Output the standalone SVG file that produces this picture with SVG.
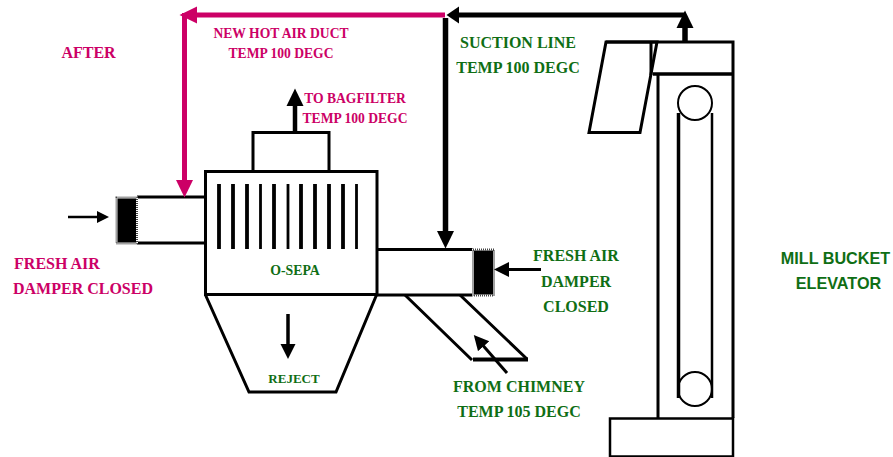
<svg xmlns="http://www.w3.org/2000/svg" width="893" height="457" viewBox="0 0 893 457">
<style>
.s{fill:none;stroke:#000;stroke-width:3}
.f{fill:#fff;stroke:#000;stroke-width:3}
.t{font-family:"Liberation Serif",serif;font-weight:bold;font-size:16px;text-anchor:middle}
.m{fill:#cc0066;font-size:13.6px}
.p{fill:#cc0066}
.g{fill:#0f6e14}
.o{fill:#000;stroke:#fff;stroke-width:2}
.d{fill:none;stroke:#444;stroke-width:2;stroke-dasharray:1 1}
.b{font-family:"Liberation Sans",sans-serif;font-size:16.2px}
</style>
<defs>
<marker id="ka" markerUnits="userSpaceOnUse" markerWidth="19" markerHeight="19" refX="1" refY="9" orient="auto"><path d="M0,0.500L17.500,9L0,17.500Z" fill="#000"/></marker>
<marker id="kb" markerUnits="userSpaceOnUse" markerWidth="17" markerHeight="17" refX="1" refY="8" orient="auto"><path d="M0,0.500L15,8L0,15.500Z" fill="#000"/></marker>
<marker id="kc" markerUnits="userSpaceOnUse" markerWidth="14" markerHeight="14" refX="1" refY="6.500" orient="auto"><path d="M0,0.500L12,6.500L0,12.500Z" fill="#000"/></marker>
<marker id="kd" markerUnits="userSpaceOnUse" markerWidth="14" markerHeight="19" refX="1" refY="9" orient="auto"><path d="M0,0.500L12.500,9L0,17.500Z" fill="#000"/></marker>
<marker id="pa" markerUnits="userSpaceOnUse" markerWidth="19" markerHeight="19" refX="1" refY="9" orient="auto"><path d="M0,0.500L17.500,9L0,17.500Z" fill="#cc0066"/></marker>
</defs>

<g id="o-sepa">
<rect class="f" x="253" y="132.500" width="76" height="39"/>
<rect class="f" x="205.500" y="171.500" width="171.500" height="123"/>
<path d="M219,184V249M233,184V249M247,184V249M274,184V249M301,184V249M315,184V249M329,184V249M343,184V249" stroke="#000" stroke-width="3.800" fill="none"/>
<path d="M260.500,184V249M288,184V249M356.500,184V249" stroke="#000" stroke-width="2.800" fill="none"/>
<text class="t g" x="295" y="275" style="font-size:13.800px">O-SEPA</text>
</g>
<g id="left-duct">
<path class="s" d="M137,197H205M137,243H205"/>
<rect class="o" x="116.500" y="197.500" width="20.500" height="46"/>
<rect class="d" x="116.500" y="197.500" width="20.500" height="46"/>
</g>
<g id="hopper">
<path class="s" d="M205.500,295L249,392H336L376.500,295"/>
<text class="t g" x="294" y="383" style="font-size:13px">REJECT</text>
</g>
<g id="right-duct">
<path class="s" d="M377,249.500H473M377,295H473"/>
<rect class="o" x="473" y="249.500" width="21" height="46"/>
<rect class="d" x="473" y="249.500" width="21" height="46"/>
</g>
<g id="chimney-duct">
<path class="s" d="M405,295L472,360M460,295L527,359"/>
<path d="M473,359.500H528" stroke="#000" stroke-width="4" fill="none"/>
</g>
<g id="elevator">
<path class="f" d="M606,42H657L640,132.500H589Z"/>
<path class="s" d="M606,42H733V74M651,42V75"/>
<path d="M653,74H733" stroke="#000" stroke-width="3.500" fill="none"/>
<path class="s" d="M658,74V418M733,74V418"/>
<rect class="f" x="610" y="418.500" width="123" height="38" style="stroke-width:2.500"/>
<circle cx="695" cy="103" r="17" fill="#fff" stroke="#000" stroke-width="2"/>
<circle cx="695" cy="389" r="17" fill="#fff" stroke="#000" stroke-width="2"/>
<path d="M678.500,113V398" stroke="#000" stroke-width="3.500" fill="none"/>
<path d="M712,113V398" stroke="#000" stroke-width="2.500" fill="none"/>
</g>

<g id="connectors">
<path d="M445,15H196" stroke="#cc0066" stroke-width="5" fill="none" marker-end="url(#pa)"/>
<path d="M184.500,13V181" stroke="#cc0066" stroke-width="5" fill="none" marker-end="url(#pa)"/>
<path d="M685,15H458" stroke="#000" stroke-width="5" fill="none" marker-end="url(#kd)"/>
<path d="M685,42V27" stroke="#000" stroke-width="5.500" fill="none" marker-end="url(#ka)"/>
<path d="M445.500,18V232" stroke="#000" stroke-width="5.500" fill="none" marker-end="url(#ka)"/>
<path d="M295,132V105" stroke="#000" stroke-width="4.500" fill="none" marker-end="url(#ka)"/>
<path d="M288,314V345" stroke="#000" stroke-width="3.500" fill="none" marker-end="url(#kb)"/>
<path d="M68,217H98" stroke="#000" stroke-width="2.500" fill="none" marker-end="url(#kc)"/>
<path d="M541,269.500H508" stroke="#000" stroke-width="3" fill="none" marker-end="url(#kb)"/>
<path d="M507,373L483,345.500" stroke="#000" stroke-width="3" fill="none" marker-end="url(#kb)"/>
</g>

<g id="labels">
<text class="t p" x="88.500" y="58">AFTER</text>
<text class="t m" x="281" y="38">NEW HOT AIR DUCT</text>
<text class="t m" x="281" y="58">TEMP 100 DEGC</text>
<text class="t m" x="355" y="103">TO BAGFILTER</text>
<text class="t m" x="355" y="123">TEMP 100 DEGC</text>
<text class="t p" x="57" y="269">FRESH AIR</text>
<text class="t p" x="83" y="294">DAMPER CLOSED</text>
<text class="t g" x="518" y="48">SUCTION LINE</text>
<text class="t g" x="518" y="73">TEMP 100 DEGC</text>
<text class="t g" x="576" y="261">FRESH AIR</text>
<text class="t g" x="576" y="287">DAMPER</text>
<text class="t g" x="576" y="312">CLOSED</text>
<text class="t g" x="519" y="392">FROM CHIMNEY</text>
<text class="t g" x="519" y="417">TEMP 105 DEGC</text>
<text class="t g b" x="835.500" y="264">MILL BUCKET</text>
<text class="t g b" x="838.500" y="289">ELEVATOR</text>
</g>
</svg>
